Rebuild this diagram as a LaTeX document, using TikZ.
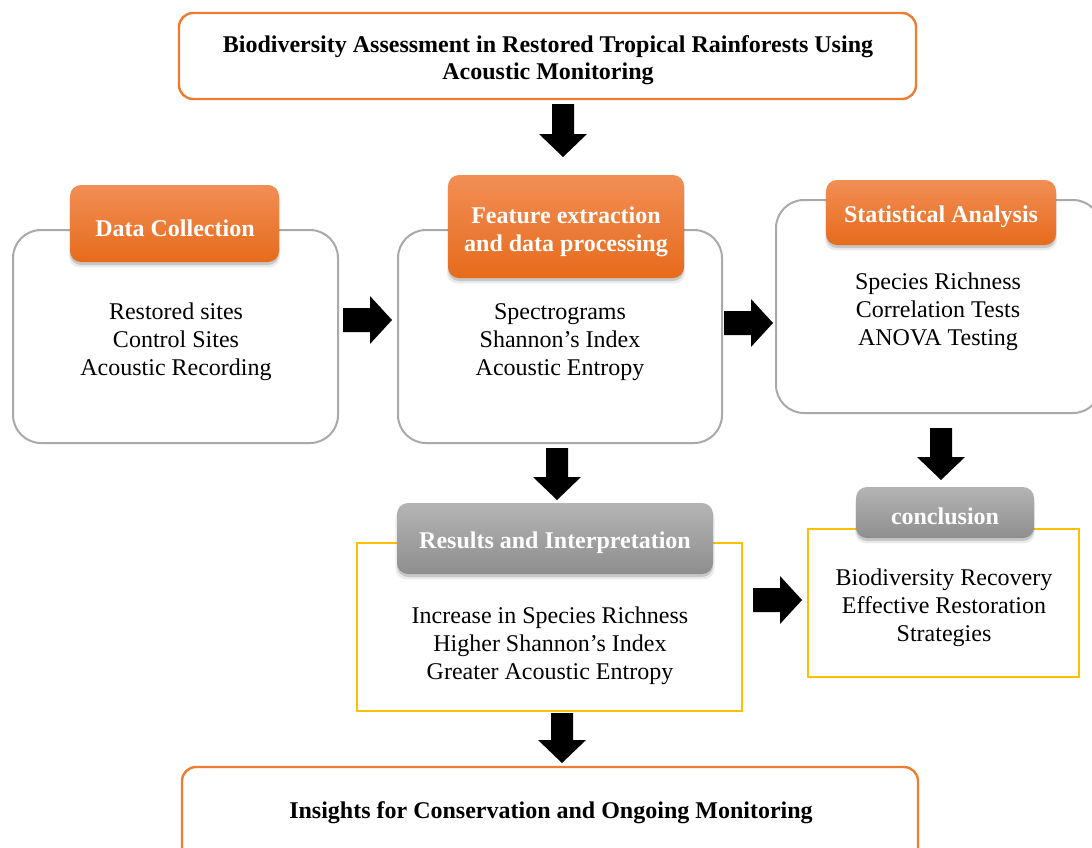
\documentclass[tikz,border=0pt]{standalone}
\usepackage{fontspec}
\setmainfont{Liberation Serif}
\usetikzlibrary{calc,shadows}
\definecolor{orline}{HTML}{ED7D31}
\definecolor{ortop}{HTML}{F28E55}
\definecolor{orbot}{HTML}{E66B1C}
\definecolor{grline}{HTML}{A9A9A9}
\definecolor{grtop}{HTML}{B4B4B4}
\definecolor{grbot}{HTML}{8E8E8E}
\definecolor{yeline}{HTML}{FFC000}
\tikzset{
  every node/.style={inner sep=0pt, outer sep=0pt},
  bigfont/.style={font=\fontsize{24}{28}\selectfont},
  titlebox/.style={draw=orline, line width=2.4pt, rounded corners=14pt, fill=white},
  graybox/.style={draw=grline, line width=2pt, rounded corners=28pt, fill=white},
  yellowbox/.style={draw=yeline, line width=2.4pt, fill=white},
  softshadow/.style={
     drop shadow={shadow xshift=0pt, shadow yshift=-5pt, opacity=0.08, fill=black, shadow scale=1.01},
     drop shadow={shadow xshift=0pt, shadow yshift=-3pt, opacity=0.15, fill=black}},
  orhead/.style={rounded corners=11pt, top color=ortop, bottom color=orbot, softshadow},
  grhead/.style={rounded corners=11pt, top color=grtop, bottom color=grbot, softshadow},
  headtxt/.style={text=white, font=\fontsize{24}{28.5}\selectfont\bfseries, align=center},
  bodytxt/.style={bigfont, align=center},
  titletxt/.style={font=\fontsize{24}{27}\selectfont\bfseries, align=center},
}
\newcommand\blkdown[2]{\fill[black] let \p1=(#1), \p2=(#2) in
  (\x1-11pt,\y1) -- (\x1+11pt,\y1) -- (\x1+11pt,\y2+23pt) -- (\x1+24pt,\y2+23pt) --
  (\x1,\y2) -- (\x1-24pt,\y2+23pt) -- (\x1-11pt,\y2+23pt) -- cycle;}
\newcommand\blkright[2]{\fill[black] let \p1=(#1), \p2=(#2) in
  (\x1,\y1+12pt) -- (\x2-22pt,\y1+12pt) -- (\x2-22pt,\y1+24pt) -- (\x2,\y1) --
  (\x2-22pt,\y1-24pt) -- (\x2-22pt,\y1-12pt) -- (\x1,\y1-12pt) -- cycle;}
\begin{document}
\begin{tikzpicture}[x=1pt,y=-1pt]
\fill[white] (0,0) rectangle (1092,847);
\useasboundingbox (0,0) rectangle (1092,847);
\clip (0,0) rectangle (1092,847);

% title
\node[titlebox, minimum width=737pt, minimum height=86pt] (title) at (547.5,56) {};
\node[titletxt] (titlet) at (548,60) {Biodiversity Assessment in Restored Tropical Rainforests Using\\Acoustic Monitoring};

% data collection
\node[graybox, minimum width=325pt, minimum height=213pt] (dc) at (175.5,336.5) {};
\node[orhead, minimum width=209pt, minimum height=77pt] (dch) at (174.5,223.5) {};
\node[headtxt] (dcht) at (175,228) {Data Collection};
\node[bodytxt] (dcb) at (176,342) {Restored sites\\Control Sites\\Acoustic Recording};

% feature extraction
\node[graybox, minimum width=324pt, minimum height=213pt] (fe) at (560,336.5) {};
\node[orhead, minimum width=236pt, minimum height=103pt] (feh) at (566,226.5) {};
\node[headtxt] (feht) at (566,232) {Feature extraction\\and data processing};
\node[bodytxt] (feb) at (560,342) {Spectrograms\\Shannon’s Index\\Acoustic Entropy};

% statistical analysis
\node[graybox, minimum width=325pt, minimum height=213pt] (sa) at (938.5,306.5) {};
\node[orhead, minimum width=230pt, minimum height=65pt] (sah) at (941,212.5) {};
\node[headtxt] (saht) at (941,217) {Statistical Analysis};
\node[bodytxt] (sab) at (938,312) {Species Richness\\Correlation Tests\\ANOVA Testing};

% results
\node[yellowbox, minimum width=385pt, minimum height=168pt] (ri) at (549.5,627) {};
\node[grhead, minimum width=316pt, minimum height=71pt] (rih) at (555,538.5) {};
\node[headtxt] (riht) at (555,543) {Results and Interpretation};
\node[bodytxt] (rib) at (550,646) {Increase in Species Richness\\Higher Shannon’s Index\\Greater Acoustic Entropy};

% conclusion
\node[yellowbox, minimum width=271pt, minimum height=148pt] (co) at (943.5,603) {};
\node[grhead, minimum width=178pt, minimum height=51pt] (coh) at (945,512.5) {};
\node[headtxt] (coht) at (945,516) {conclusion};
\node[bodytxt] (cob) at (944,608) {Biodiversity Recovery\\Effective Restoration\\Strategies};

% insights
\node[titlebox, minimum width=736pt, minimum height=104pt] (ins) at (550,819) {};
\node[titletxt] (inst) at (551,813) {Insights for Conservation and Ongoing Monitoring};

% arrows
\coordinate (a1s) at (563,104); \coordinate (a1e) at (563,157);
\coordinate (a2s) at (343,320); \coordinate (a2e) at (392,320);
\coordinate (a3s) at (724,323); \coordinate (a3e) at (773,323);
\coordinate (a4s) at (557,448); \coordinate (a4e) at (557,500);
\coordinate (a5s) at (941,428); \coordinate (a5e) at (941,480);
\coordinate (a6s) at (753,600); \coordinate (a6e) at (802,600);
\coordinate (a7s) at (562,713); \coordinate (a7e) at (562,763);
\blkdown{a1s}{a1e}
\blkright{a2s}{a2e}
\blkright{a3s}{a3e}
\blkdown{a4s}{a4e}
\blkdown{a5s}{a5e}
\blkright{a6s}{a6e}
\blkdown{a7s}{a7e}
\end{tikzpicture}
\end{document}
